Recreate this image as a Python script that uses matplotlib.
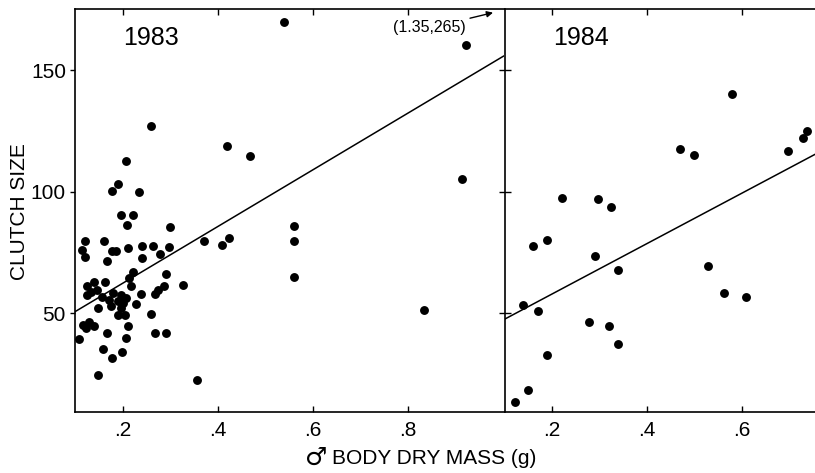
import numpy as np
import matplotlib.pyplot as plt

plt.rcParams['font.family'] = ['Liberation Sans', 'DejaVu Sans']

# 1983 data (male body dry mass, clutch size)
mass_83 = [0.540, 0.922, 0.260, 0.420, 0.467, 0.207, 0.912, 0.190, 0.178, 0.234,
           0.197, 0.221, 0.209, 0.300, 0.560, 0.560, 0.561, 0.834, 0.423, 0.409,
           0.370, 0.326, 0.356, 0.122, 0.161, 0.114, 0.122, 0.178, 0.187, 0.168,
           0.211, 0.241, 0.263, 0.241, 0.279, 0.298, 0.221, 0.291, 0.214, 0.140,
           0.163, 0.126, 0.218, 0.133, 0.147, 0.126, 0.179, 0.157, 0.197, 0.172,
           0.207, 0.239, 0.274, 0.286, 0.269, 0.190, 0.200, 0.176, 0.149, 0.228,
           0.197, 0.190, 0.204, 0.260, 0.116, 0.130, 0.140, 0.123, 0.211, 0.109,
           0.168, 0.208, 0.269, 0.291, 0.158, 0.178, 0.199, 0.149]
clutch_83 = [170.0, 160.4, 126.9, 118.7, 114.6, 112.8, 105.2, 103.2, 100.1, 99.7,
             90.5, 90.5, 86.4, 85.6, 85.8, 79.8, 64.8, 51.3, 80.9, 78.1,
             79.8, 61.7, 22.4, 79.8, 79.8, 76.1, 73.3, 75.7, 75.7, 71.5,
             77.0, 77.7, 77.7, 72.7, 74.3, 77.2, 67.1, 66.1, 64.4, 63.0,
             62.8, 61.0, 61.0, 58.9, 59.6, 57.5, 58.2, 56.8, 57.5, 55.5,
             56.4, 57.8, 59.6, 61.0, 57.8, 54.8, 54.1, 53.1, 52.0, 53.7,
             52.3, 49.3, 49.3, 49.6, 45.2, 46.3, 44.5, 43.8, 44.5, 39.3,
             41.8, 39.7, 41.8, 41.8, 35.3, 31.5, 33.8, 24.6]
outlier_83 = (1.35, 265)

# 1984 data
mass_84 = [0.579, 0.469, 0.499, 0.698, 0.728, 0.738, 0.222, 0.296, 0.325, 0.160,
           0.190, 0.290, 0.340, 0.528, 0.563, 0.608, 0.140, 0.170, 0.279, 0.321,
           0.339, 0.189, 0.149, 0.123]
clutch_84 = [140.3, 117.6, 115.1, 116.6, 122.0, 124.8, 97.5, 97.0, 93.7, 77.7,
             80.2, 73.6, 67.8, 69.5, 58.4, 56.5, 53.4, 50.9, 46.2, 44.8,
             37.1, 32.6, 18.2, 13.5]

# fitted regression lines: clutch = a + b * mass
fit_83 = (38.9, 116.9)
fit_84 = (37.1, 103.8)

x_ticks = [0.2, 0.4, 0.6, 0.8]
x_labels = ['.2', '.4', '.6', '.8']
y_ticks = [50, 100, 150]

W, H = 815, 473
fig = plt.figure(figsize=(W / 100, H / 100), dpi=100)
bot = 1 - 411.5 / H
hgt = 402 / H
ax1 = fig.add_axes([75 / W, bot, 428.5 / W, hgt])
ax2 = fig.add_axes([504.5 / W, bot, (W - 504.5) / W, hgt], sharey=ax1)

for ax, xs, ys, fit, xlim, year, tx in [
        (ax1, mass_83, clutch_83, fit_83, (0.1, 1.0), '1983', 0.113),
        (ax2, mass_84, clutch_84, fit_84, (0.1, 0.754), '1984', 0.156)]:
    ax.plot(xs, ys, 'o', color='black', markersize=6.4, markeredgewidth=0)
    xl = np.array(xlim)
    ax.plot(xl, fit[0] + fit[1] * xl, color='black', lw=1.1)
    ax.set_xlim(*xlim)
    ax.set_ylim(9.5, 175)
    ax.set_xticks([t for t in x_ticks if t < xlim[1]])
    ax.set_xticklabels([l for t, l in zip(x_ticks, x_labels) if t < xlim[1]])
    ax.tick_params(axis='x', direction='in', top=True, bottom=True,
                   length=4, width=1, labelsize=15, pad=7)
    ax.text(tx, 0.929, year, transform=ax.transAxes, fontsize=18,
            ha='left', va='center')
    for s in ax.spines.values():
        s.set_linewidth(1.2)

ax1.set_yticks(y_ticks)
ax1.tick_params(axis='y', direction='out', left=True, right=False,
                length=3.5, width=1, labelsize=15, pad=3)
ax2.tick_params(axis='y', direction='inout', left=True, right=False,
                length=8, width=1, labelleft=False)
ax1.spines['right'].set_visible(False)
ax2.spines['right'].set_visible(False)

ax1.annotate('(%.2f,%d)' % outlier_83, xy=(0.978, 173.7), xytext=(0.921, 167.4),
             ha='right', va='center', fontsize=11.5,
             arrowprops=dict(arrowstyle='-|>', color='black', lw=1,
                             shrinkA=1, shrinkB=0, mutation_scale=9))

fig.text(20 / W, 1 - 212 / H, 'CLUTCH SIZE', rotation=90, fontsize=15,
         ha='center', va='center')
fig.text(327 / W, 1 - 458 / H, '\u2642', fontsize=18, family='DejaVu Sans',
         ha='right', va='center')
fig.text(332 / W, 1 - 458 / H, 'BODY DRY MASS (g)', fontsize=15,
         ha='left', va='center')

fig.savefig('out.png', dpi=100)
